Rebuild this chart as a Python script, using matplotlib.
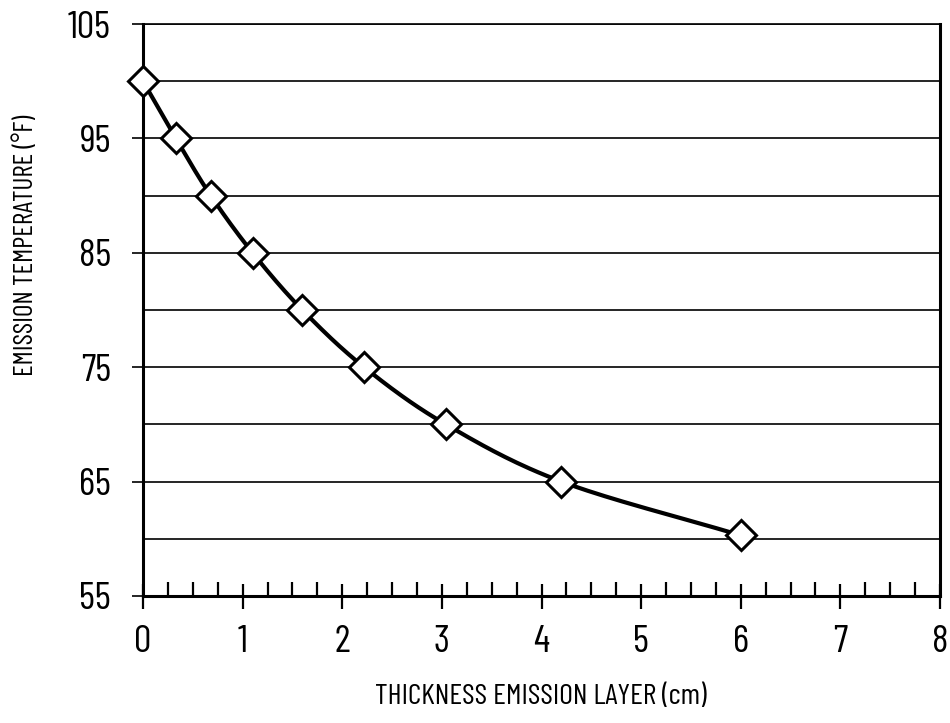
import numpy as np
import matplotlib
matplotlib.use('Agg')
import matplotlib.pyplot as plt
from matplotlib.ticker import MultipleLocator

# values
thickness = [0.0, 0.33, 0.68, 1.1, 1.6, 2.22, 3.04, 4.2, 6.0]
temperature = [100.0, 95.0, 90.0, 85.0, 80.0, 75.0, 70.0, 65.0, 60.3]
x_ticks = [0, 1, 2, 3, 4, 5, 6, 7, 8]
y_ticks = [55, 65, 75, 85, 95, 105]
y_grid = [60, 70, 80, 90, 100]

plt.rcParams['font.family'] = ['Barlow Condensed', 'DejaVu Sans']


def catmull_rom(xs, ys, n=30):
    """smooth path through the data points (drawing only)"""
    p = np.column_stack([xs, ys])
    p = np.vstack([2 * p[0] - p[1], p, 2 * p[-1] - p[-2]])
    out = []
    for i in range(1, len(p) - 2):
        p0, p1, p2, p3 = p[i - 1], p[i], p[i + 1], p[i + 2]
        t = np.linspace(0, 1, n, endpoint=False)[:, None]
        seg = 0.5 * ((2 * p1) + (-p0 + p2) * t + (2 * p0 - 5 * p1 + 4 * p2 - p3) * t ** 2
                     + (-p0 + 3 * p1 - 3 * p2 + p3) * t ** 3)
        out.append(seg)
    out.append(p[-2][None, :])
    out = np.vstack(out)
    return out[:, 0], out[:, 1]


fig = plt.figure(figsize=(9.5, 7.23), dpi=100)
ax = fig.add_axes([0.1505, 0.1757, 0.8390, 0.7911])

# horizontal grid lines
for yv in y_ticks + y_grid:
    ax.axhline(yv, color='black', lw=1.2, zorder=1)

sx, sy = catmull_rom(thickness, temperature)
ax.plot(sx, sy, color='black', lw=3, zorder=3, clip_on=False)
ax.plot(thickness, temperature, linestyle='none', marker='D', markersize=15,
        markerfacecolor='white', markeredgecolor='black', markeredgewidth=2.2,
        zorder=4, clip_on=False)

ax.set_xlim(0, 8)
ax.set_ylim(55, 105)
ax.set_xticks(x_ticks)
ax.set_yticks(y_ticks)
ax.xaxis.set_minor_locator(MultipleLocator(0.25))

for side in ['left', 'right', 'bottom']:
    ax.spines[side].set_linewidth(2.2)
ax.spines['top'].set_linewidth(1.2)

ax.tick_params(axis='x', which='major', direction='inout', length=18, width=1.6,
               labelsize=28, pad=12)
ax.tick_params(axis='x', which='minor', direction='in', length=10, width=1.6)
ax.tick_params(axis='y', which='major', direction='out', length=8, width=1.2,
               labelsize=28, pad=15)

fig.text(541 / 950, 1 - 697 / 723, 'THICKNESS EMISSION LAYER (cm)', fontsize=21.5,
         ha='center', va='center')
fig.text(26 / 950, 1 - 245 / 723, 'EMISSION TEMPERATURE (°F)', fontsize=19.5,
         ha='center', va='center', rotation=90)

plt.savefig('out.png', dpi=100)
